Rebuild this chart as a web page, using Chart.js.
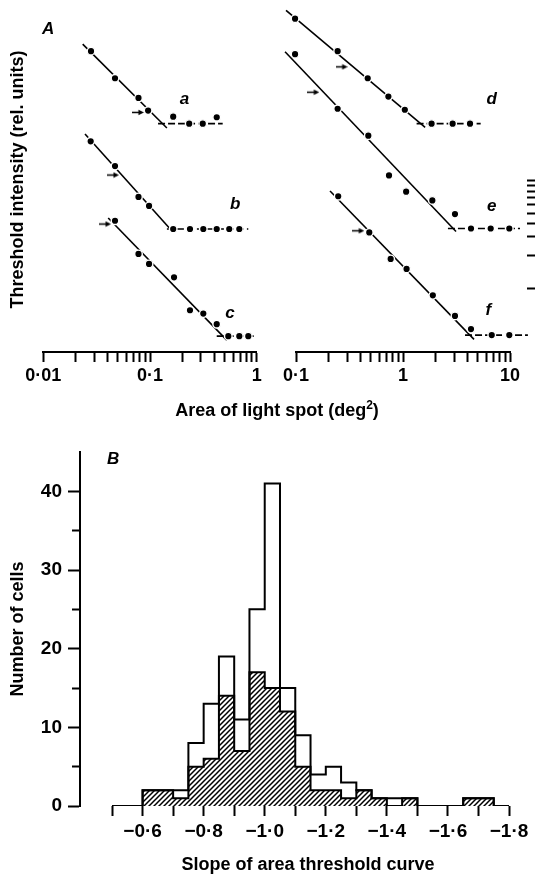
<!DOCTYPE html>
<html lang="en">
<head>
<meta charset="UTF-8">
<title>Area threshold curves</title>
<script src="https://cdn.jsdelivr.net/npm/chart.js"></script>
<style>
    body { margin: 0; background: #fff; }
    #page { position: relative; width: 535px; height: 878px; font-family: 'Liberation Sans', Arial, sans-serif; color: #000; }
    canvas { position: absolute; }
    .txt { position: absolute; font-weight: bold; font-size: 18px; line-height: 20px; text-align: center; white-space: nowrap; }
    .txt sup { font-size: 12px; line-height: 0; vertical-align: 7px; }
    .panel { position: absolute; font-weight: bold; font-style: italic; font-size: 17px; line-height: 20px; }
</style>
</head>
<body>
<div id="page">
    <canvas id="leftChart" width="265" height="400" style="left:0;top:0"></canvas>
    <canvas id="rightChart" width="270" height="400" style="left:265px;top:0"></canvas>
    <canvas id="histChart" width="535" height="448" style="left:0;top:430px"></canvas>
    <div class="panel" style="left:42px;top:19px">A</div>
    <div class="panel" style="left:107px;top:449px">B</div>
    <div class="txt" style="left:127px;top:400px;width:300px">Area of light spot (deg<sup>2</sup>)</div>
    <div class="txt" style="left:158px;top:854px;width:300px">Slope of area threshold curve</div>
</div>
<script>
    // A: spot area (deg2) vs threshold (rel. units), cells a-f
    const areaA = [0.028, 0.047, 0.078, 0.096, 0.165, 0.233, 0.312, 0.422];
    const thrA = [161, 90, 59, 45, 39.5, 34, 34, 39];
    const fitAreaA = [0.0234, 0.144], fitThrA = [187, 31];
    const plateauA = [0.119, 0.48], levelA = 34;
    const arrowA = [0.077], arrowThrA = [43.3];

    const areaB = [0.0278, 0.047, 0.078, 0.098, 0.165, 0.237, 0.316, 0.422, 0.553, 0.687];
    const thrB = [23.3, 13.7, 7.06, 5.83, 3.55, 3.55, 3.55, 3.55, 3.55, 3.55];
    const fitAreaB = [0.0246, 0.16], fitThrB = [27.2, 3.42];
    const plateauB = [0.144, 0.834], levelB = 3.55;
    const arrowB = [0.045], arrowThrB = [11.3];

    const areaC = [0.047, 0.078, 0.098, 0.168, 0.237, 0.316, 0.422, 0.542, 0.687, 0.834];
    const thrC = [4.24, 2.08, 1.68, 1.26, 0.622, 0.579, 0.461, 0.357, 0.357, 0.357];
    const fitAreaC = [0.0406, 0.524], fitThrC = [4.49, 0.328];
    const plateauC = [0.422, 1.0], levelC = 0.357;
    const arrowC = [0.0379], arrowThrC = [3.95];

    const areaD = [0.098, 0.245, 0.468, 0.73, 1.04, 1.85, 2.91, 4.23];
    const thrD = [323, 161, 90, 60.8, 45.8, 34, 34, 34];
    const fitAreaD = [0.0807, 1.61], fitThrD = [386, 31.4];
    const plateauD = [1.34, 5.32], levelD = 34;
    const arrowD = [0.267], arrowThrD = [115];

    const areaE = [0.098, 0.245, 0.474, 0.74, 1.07, 1.88, 3.06, 4.32, 6.6, 9.85];
    const thrE = [151, 46.8, 26.3, 11.2, 7.91, 6.56, 4.89, 3.59, 3.59, 3.59];
    const fitAreaE = [0.079, 3.13], fitThrE = [159, 3.37];
    const plateauE = [2.63, 12.4], levelE = 3.59;
    const arrowE = [0.145], arrowThrE = [66.7];

    const areaF = [0.248, 0.484, 0.767, 1.08, 1.90, 3.06, 4.32, 6.75, 9.85, 13.3];
    const thrF = [7.17, 3.30, 1.87, 1.51, 0.856, 0.551, 0.415, 0.365, 0.365, 0.365];
    const fitAreaF = [0.208, 4.61], fitThrF = [8.03, 0.333];
    const plateauF = [3.8, 14.7], levelF = 0.365;
    const arrowF = [0.382], arrowThrF = [3.42];

    const leftMajor = [0.01, 0.1, 1], leftLabels = ['0·01', '0·1', '1'];
    const rightMajor = [0.1, 1, 10], rightLabels = ['0·1', '1', '10'];
    const scaleBarTicks = [1, 2, 3, 4, 5, 6, 7, 8, 9, 10];

    // B: histogram of slopes (bin edges, all cells, hatched cells)
    const slopeEdges = [-0.50, -0.55, -0.60, -0.65, -0.70, -0.75, -0.80, -0.85, -0.90, -0.95, -1.00, -1.05, -1.10,
        -1.15, -1.20, -1.25, -1.30, -1.35, -1.40, -1.45, -1.50, -1.55, -1.60, -1.65, -1.70, -1.75, -1.80];
    const allCells = [0, 0, 2, 2, 2, 8, 13, 19, 11, 25, 41, 15, 9, 4, 5, 3, 2, 1, 1, 1, 0, 0, 0, 1, 1, 0, 0];
    const hatchedCells = [0, 0, 2, 2, 1, 5, 6, 14, 7, 17, 15, 12, 5, 2, 2, 1, 2, 1, 0, 1, 0, 0, 0, 1, 1, 0, 0];
    const slopeTicks = [-0.5, -0.6, -0.7, -0.8, -0.9, -1.0, -1.1, -1.2, -1.3, -1.4, -1.5, -1.6, -1.7, -1.8];
    const slopeMajor = [-0.6, -0.8, -1.0, -1.2, -1.4, -1.6, -1.8];
    const slopeLabels = ['\u22120·6', '\u22120·8', '\u22121·0', '\u22121·2', '\u22121·4', '\u22121·6', '\u22121·8'];
    const countTicks = [0, 5, 10, 15, 20, 25, 30, 35, 40];
    const countMajor = [0, 10, 20, 30, 40], countLabels = ['0', '10', '20', '30', '40'];

    Chart.defaults.font.family = "'Liberation Sans', Arial, sans-serif";
    Chart.defaults.color = '#000';

    function pts(xs, ys) {
        return xs.map((x, i) => ({ x: x, y: ys[i] }));
    }

    function labelFor(majors, labels) {
        return function (value) {
            const i = majors.findIndex(m => Math.abs(m - value) < Math.abs(m) * 1e-6 + 1e-9);
            return i >= 0 ? labels[i] : '';
        };
    }

    function logTicks(first, last) {
        const t = [];
        for (let d = first; d < last * 0.999; d *= 10) {
            for (let m = 1; m < 10; m++) t.push({ value: +(m * d).toPrecision(3) });
        }
        t.push({ value: last });
        return t;
    }

    function arrowImage() {
        const c = document.createElement('canvas');
        c.width = 12; c.height = 7;
        const g = c.getContext('2d');
        g.strokeStyle = '#000'; g.fillStyle = '#000'; g.lineWidth = 1.5;
        g.beginPath(); g.moveTo(0, 3.5); g.lineTo(8, 3.5); g.stroke();
        g.beginPath(); g.moveTo(12, 3.5); g.lineTo(6.5, 0.8); g.lineTo(6.5, 6.2); g.closePath(); g.fill();
        return c;
    }
    const arrow = arrowImage();

    function curve(area, thr, fitX, fitY, platX, level, arrX, arrY) {
        return [
            { data: pts(area, thr), showLine: false, pointRadius: 3.8, pointBackgroundColor: '#000',
              pointBorderColor: '#fff', pointBorderWidth: 1.4, order: 0, clip: false },
            { data: pts(arrX, arrY), showLine: false, pointStyle: arrow, pointRadius: 6, order: 0, clip: false },
            { data: pts(fitX, fitY), showLine: true, borderColor: '#000', borderWidth: 1.6,
              pointRadius: 0, order: 1, clip: false },
            { data: pts(platX, [level, level]), showLine: true, borderColor: '#000', borderWidth: 1.6,
              borderDash: [7, 3], pointRadius: 0, order: 1, clip: false }
        ];
    }

    // letters a-f next to each curve
    const curveLetters = {
        id: 'curveLetters',
        afterDatasetsDraw(chart, args, opts) {
            const ctx = chart.ctx;
            ctx.save();
            ctx.font = "italic bold 17px 'Liberation Sans', Arial, sans-serif";
            ctx.textAlign = 'center';
            ctx.textBaseline = 'middle';
            ctx.fillStyle = '#000';
            (opts.items || []).forEach(it => {
                ctx.fillText(it.text, chart.scales.x.getPixelForValue(it.x), chart.scales.y.getPixelForValue(it.y));
            });
            ctx.restore();
        }
    };

    const yMinRel = 0.254, yMaxRel = 415;

    function areaAxis(min, max, majors, labels) {
        return {
            type: 'logarithmic', min: min, max: max,
            afterBuildTicks: s => { s.ticks = logTicks(min, max); },
            afterFit: s => { s.height = 48; },
            ticks: { autoSkip: false, maxRotation: 0, padding: 3, font: { size: 18, weight: 'bold' },
                     callback: labelFor(majors, labels) },
            grid: { drawOnChartArea: false, drawTicks: true, tickLength: 10, tickWidth: 2, tickColor: '#000' },
            border: { display: true, color: '#000', width: 2 }
        };
    }

    const leftChart = new Chart(document.getElementById('leftChart'), {
        type: 'scatter',
        data: { datasets: [].concat(
            curve(areaA, thrA, fitAreaA, fitThrA, plateauA, levelA, arrowA, arrowThrA),
            curve(areaB, thrB, fitAreaB, fitThrB, plateauB, levelB, arrowB, arrowThrB),
            curve(areaC, thrC, fitAreaC, fitThrC, plateauC, levelC, arrowC, arrowThrC)) },
        plugins: [curveLetters],
        options: {
            responsive: false, animation: false,
            layout: { padding: { top: 5, right: 8.3, left: 0, bottom: 0 } },
            plugins: {
                legend: { display: false }, tooltip: { enabled: false },
                curveLetters: { items: [
                    { text: 'a', x: 0.211, y: 57 },
                    { text: 'b', x: 0.627, y: 6.08 },
                    { text: 'c', x: 0.562, y: 0.583 }] }
            },
            scales: {
                x: areaAxis(0.01, 1, leftMajor, leftLabels),
                y: {
                    type: 'logarithmic', min: yMinRel, max: yMaxRel,
                    afterFit: s => { s.width = 43.3; },
                    ticks: { display: false },
                    grid: { display: false },
                    border: { display: false },
                    title: { display: true, text: 'Threshold intensity (rel. units)', padding: { top: 7, bottom: 0 },
                             font: { size: 18, weight: 'bold' } }
                }
            }
        }
    });

    const rightChart = new Chart(document.getElementById('rightChart'), {
        type: 'scatter',
        data: { datasets: [].concat(
            curve(areaD, thrD, fitAreaD, fitThrD, plateauD, levelD, arrowD, arrowThrD),
            curve(areaE, thrE, fitAreaE, fitThrE, plateauE, levelE, arrowE, arrowThrE),
            curve(areaF, thrF, fitAreaF, fitThrF, plateauF, levelF, arrowF, arrowThrF)) },
        plugins: [curveLetters],
        options: {
            responsive: false, animation: false,
            layout: { padding: { top: 5, right: 0, left: 31, bottom: 0 } },
            plugins: {
                legend: { display: false }, tooltip: { enabled: false },
                curveLetters: { items: [
                    { text: 'd', x: 6.75, y: 57 },
                    { text: 'e', x: 6.75, y: 5.83 },
                    { text: 'f', x: 6.27, y: 0.622 }] }
            },
            scales: {
                x: areaAxis(0.1, 10, rightMajor, rightLabels),
                y: {
                    type: 'logarithmic', position: 'right', min: yMinRel, max: yMaxRel,
                    afterBuildTicks: s => { s.ticks = scaleBarTicks.map(v => ({ value: v })); },
                    afterFit: s => { s.width = 25; },
                    ticks: { display: false },
                    grid: { drawOnChartArea: false, drawTicks: true, tickLength: 25, tickWidth: 2,
                            tickColor: '#000', tickBorderDash: [0, 17, 8, 40] },
                    border: { display: false }
                }
            }
        }
    });

    const histCtx = document.getElementById('histChart').getContext('2d');
    const hatchTile = document.createElement('canvas');
    hatchTile.width = 5; hatchTile.height = 5;
    const ht = hatchTile.getContext('2d');
    ht.strokeStyle = '#000'; ht.lineWidth = 1.5;
    ht.beginPath();
    ht.moveTo(0, 5); ht.lineTo(5, 0);
    ht.moveTo(-2.5, 2.5); ht.lineTo(2.5, -2.5);
    ht.moveTo(2.5, 7.5); ht.lineTo(7.5, 2.5);
    ht.stroke();
    const hatch = histCtx.createPattern(hatchTile, 'repeat');

    const histChart = new Chart(histCtx, {
        type: 'scatter',
        data: {
            datasets: [
                { data: pts(slopeEdges, allCells), showLine: true, stepped: 'before', borderColor: '#000',
                  borderWidth: 2, pointRadius: 0, fill: false, order: 0 },
                { data: pts(slopeEdges, hatchedCells), showLine: true, stepped: 'before', borderColor: '#000',
                  borderWidth: 2, pointRadius: 0, fill: 'origin', backgroundColor: hatch, order: 1 }
            ]
        },
        options: {
            responsive: false, animation: false,
            layout: { padding: { top: 22, right: 26, left: 0, bottom: 0 } },
            plugins: { legend: { display: false }, tooltip: { enabled: false } },
            scales: {
                x: {
                    type: 'linear', reverse: true, min: -1.8, max: -0.395,
                    afterBuildTicks: s => { s.ticks = slopeTicks.map(v => ({ value: v })); },
                    afterFit: s => { s.height = 72; },
                    ticks: { autoSkip: false, maxRotation: 0, padding: 4, font: { size: 19, weight: 'bold' },
                             callback: labelFor(slopeMajor, slopeLabels) },
                    grid: { drawOnChartArea: false, drawTicks: true, tickLength: 10, tickWidth: 2, tickColor: '#000' },
                    border: { display: false }
                },
                y: {
                    min: 0, max: 45,
                    afterBuildTicks: s => { s.ticks = countTicks.map(v => ({ value: v })); },
                    afterFit: s => { s.width = 80; },
                    ticks: { padding: 6, font: { size: 19, weight: 'bold' }, callback: labelFor(countMajor, countLabels) },
                    grid: { drawOnChartArea: false, drawTicks: true, tickLength: 12, tickWidth: 2, tickColor: '#000',
                            tickBorderDash: c => (c.tick && c.tick.value % 10 !== 0) ? [0, 4, 20] : [] },
                    border: { display: true, color: '#000', width: 2 },
                    title: { display: true, text: 'Number of cells', padding: { top: 7, bottom: 0 },
                             font: { size: 18, weight: 'bold' } }
                }
            }
        }
    });
</script>
</body>
</html>
